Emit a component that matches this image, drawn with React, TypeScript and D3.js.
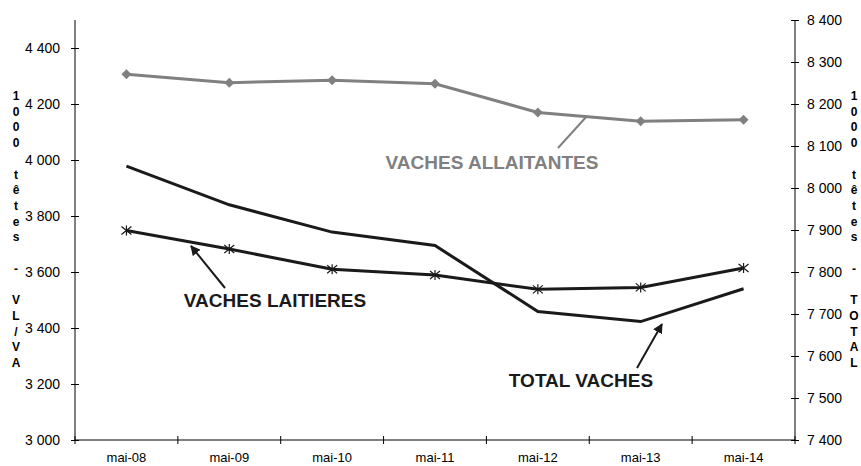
import React, { useEffect, useRef } from "react";
import * as d3 from "d3";

const months = ["mai-08", "mai-09", "mai-10", "mai-11", "mai-12", "mai-13", "mai-14"];
const allaitantes = [4306, 4276, 4285, 4272, 4170, 4138, 4144];
const laitieres = [3748, 3682, 3610, 3589, 3538, 3545, 3614];
const total = [8052, 7960, 7895, 7863, 7706, 7682, 7760];
const leftTicks = [3000, 3200, 3400, 3600, 3800, 4000, 4200, 4400];
const rightTicks = [7400, 7500, 7600, 7700, 7800, 7900, 8000, 8100, 8200, 8300, 8400];
const leftTitle = ["1", "0", "0", "0", "", "t", "ê", "t", "e", "s", "", "-", "", "V", "L", "/", "V", "A"];
const rightTitle = ["1", "0", "0", "0", "", "t", "ê", "t", "e", "s", "", "-", "", "T", "O", "T", "A", "L"];

export default function App() {
  const ref = useRef<SVGSVGElement>(null);

  useEffect(() => {
    const width = 861;
    const height = 466;
    const svg = d3.select(ref.current);
    svg.selectAll("*").remove();
    svg.attr("width", width).attr("height", height);

    const left = 75, right = 795, top = 20, bottom = 440;
    const font = "Arial, Liberation Sans, sans-serif";
    const fmt = d3.formatLocale({ decimal: ",", thousands: " ", grouping: [3], currency: ["", "€"] }).format(",d");

    const x = d3.scaleBand().domain(months).range([left, right]);
    const yL = d3.scaleLinear().domain([3000, 4500]).range([bottom, top]);
    const yR = d3.scaleLinear().domain([7400, 8400]).range([bottom, top]);

    // left axis
    const gL = svg.append("g").attr("transform", `translate(${left},0)`)
      .call(d3.axisLeft(yL).tickValues(leftTicks).tickFormat((d: any) => fmt(d)).tickSize(4).tickPadding(11));
    gL.select(".domain").attr("d", `M0,${top}V${bottom}`).attr("stroke", "#000");
    gL.selectAll(".tick line").attr("x1", 4).attr("stroke", "#000");
    gL.selectAll(".tick text").attr("font-family", font).attr("font-size", 14).attr("fill", "#000");

    // right axis
    const gR = svg.append("g").attr("transform", `translate(${right},0)`)
      .call(d3.axisRight(yR).tickValues(rightTicks).tickFormat((d: any) => fmt(d)).tickSize(4).tickPadding(8));
    gR.select(".domain").attr("d", `M0,${top}V${bottom}`).attr("stroke", "#000");
    gR.selectAll(".tick line").attr("x1", -4).attr("stroke", "#000");
    gR.selectAll(".tick text").attr("font-family", font).attr("font-size", 14).attr("fill", "#000");

    // bottom axis
    const gB = svg.append("g").attr("transform", `translate(0,${bottom})`);
    gB.append("line").attr("x1", left).attr("x2", right).attr("stroke", "#000");
    const bounds = months.map((m) => x(m)!).concat([right]);
    gB.selectAll("line.tk").data(bounds).enter().append("line")
      .attr("x1", (d) => d).attr("x2", (d) => d).attr("y1", -4).attr("y2", 4).attr("stroke", "#000");
    gB.selectAll("text").data(months).enter().append("text")
      .attr("x", (d) => x(d)! + x.bandwidth() / 2).attr("y", 22)
      .attr("text-anchor", "middle").attr("font-family", font)
      .attr("font-size", 13).text((d) => d);

    // axis titles (stacked letters)
    const stacked = (chars: string[], cx: number) => {
      svg.append("g").selectAll("text").data(chars).enter().append("text")
        .attr("x", cx).attr("y", (d, i) => 100 + i * 15.7)
        .attr("text-anchor", "middle").attr("font-family", font)
        .attr("font-weight", "bold").attr("font-size", 12).text((d) => d);
    };
    stacked(leftTitle, 16);
    stacked(rightTitle, 854);

    const cx = (i: number) => x(months[i])! + x.bandwidth() / 2;

    // arrow marker
    const defs = svg.append("defs");
    defs.append("marker").attr("id", "arr").attr("viewBox", "0 0 10 10").attr("refX", 9).attr("refY", 5)
      .attr("markerWidth", 5).attr("markerHeight", 5).attr("orient", "auto")
      .append("path").attr("d", "M0,0L10,5L0,10z").attr("fill", "#1a1a1a");

    // lines
    const lineL = d3.line<number>().x((d, i) => cx(i)).y((d) => yL(d));
    const lineR = d3.line<number>().x((d, i) => cx(i)).y((d) => yR(d));

    svg.append("path").datum(allaitantes).attr("d", lineL).attr("fill", "none")
      .attr("stroke", "#808080").attr("stroke-width", 3);
    svg.append("path").datum(total).attr("d", lineR).attr("fill", "none")
      .attr("stroke", "#1a1a1a").attr("stroke-width", 3);
    svg.append("path").datum(laitieres).attr("d", lineL).attr("fill", "none")
      .attr("stroke", "#1a1a1a").attr("stroke-width", 3);

    // diamonds
    svg.append("g").selectAll("path").data(allaitantes).enter().append("path")
      .attr("transform", (d, i) => `translate(${cx(i)},${yL(d)})`)
      .attr("d", "M0,-5L5,0L0,5L-5,0Z").attr("fill", "#808080");

    // asterisks
    const star = svg.append("g").selectAll("g").data(laitieres).enter().append("g")
      .attr("transform", (d, i) => `translate(${cx(i)},${yL(d)})`);
    star.append("path").attr("d", "M0,-5V5M-5,-4L5,4M-5,4L5,-4")
      .attr("stroke", "#1a1a1a").attr("stroke-width", 1.2).attr("fill", "none");

    // annotations
    svg.append("line").attr("x1", 558).attr("y1", 148).attr("x2", 587).attr("y2", 116)
      .attr("stroke", "#808080").attr("stroke-width", 2);
    svg.append("text").attr("x", 492).attr("y", 169).attr("text-anchor", "middle")
      .attr("font-family", font).attr("font-weight", "bold").attr("font-size", 19)
      .attr("fill", "#808080").text("VACHES ALLAITANTES");

    svg.append("line").attr("x1", 225).attr("y1", 288).attr("x2", 191).attr("y2", 246)
      .attr("stroke", "#1a1a1a").attr("stroke-width", 2).attr("marker-end", "url(#arr)");
    svg.append("text").attr("x", 275).attr("y", 307).attr("text-anchor", "middle")
      .attr("font-family", font).attr("font-weight", "bold").attr("font-size", 19)
      .attr("fill", "#1a1a1a").text("VACHES LAITIERES");

    svg.append("line").attr("x1", 637).attr("y1", 368).attr("x2", 662).attr("y2", 324)
      .attr("stroke", "#1a1a1a").attr("stroke-width", 2).attr("marker-end", "url(#arr)");
    svg.append("text").attr("x", 581).attr("y", 387).attr("text-anchor", "middle")
      .attr("font-family", font).attr("font-weight", "bold").attr("font-size", 19)
      .attr("fill", "#1a1a1a").text("TOTAL VACHES");
  }, []);

  return (
    <div style={{ position: "absolute", left: 0, top: 0, background: "#fff" }}>
      <svg ref={ref}></svg>
    </div>
  );
}
